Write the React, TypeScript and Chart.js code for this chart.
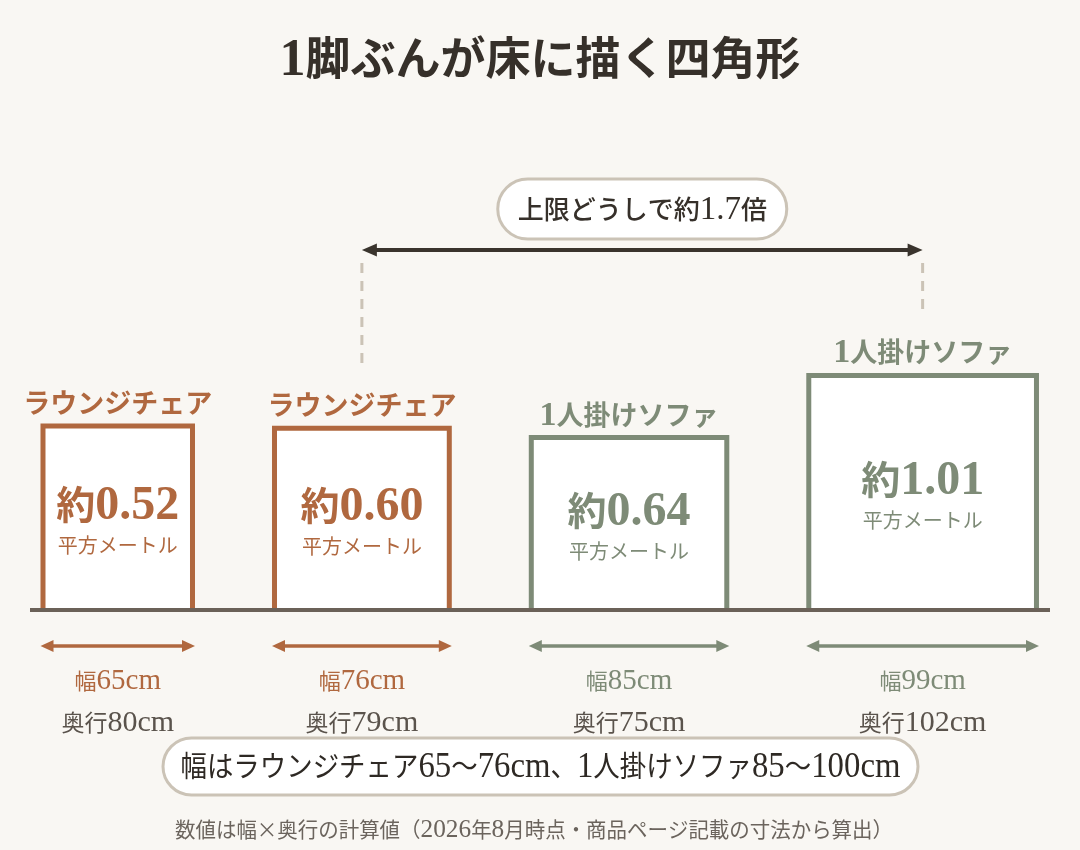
import React, { useEffect, useRef } from "react";
import { Chart, registerables } from "chart.js";

Chart.register(...registerables);

// ---- data ----
const categories = ["ラウンジチェア", "ラウンジチェア", "1人掛けソファ", "1人掛けソファ"];
const groups = ["chair", "chair", "sofa", "sofa"];
const widthsCm = [65, 76, 85, 99];
const depthsCm = [80, 79, 75, 102];
const titleText = "1脚ぶんが床に描く四角形";
const ratioText = "上限どうしで約1.7倍";
const summaryText = "幅はラウンジチェア65〜76cm、1人掛けソファ85〜100cm";
const noteText = "数値は幅×奥行の計算値（2026年8月時点・商品ページ記載の寸法から算出）";
const unitText = "平方メートル";

// ---- layout / style ----
const GAP_CM = 35.65;
const X_MIN = -5.652;
const X_MAX = 437.83;
const Y_MAX = 221.74;
const BG = "#f9f7f3";
const COLORS: Record<string, string> = { chair: "#b0683f", sofa: "#7e8b77" };
const DARK = "#36302a";
const MUTED = "#5a534c";
const FLOOR = "#6b6158";
const PILL_BORDER = "#cbc3b6";
const LATIN_FONT = "'Liberation Serif', serif";
const CJK_FONT = "'Noto Sans CJK JP', sans-serif";

const starts: number[] = [];
widthsCm.reduce((acc, w) => {
  starts.push(acc);
  return acc + w + GAP_CM;
}, 0);

function isLatin(ch: string) {
  const c = ch.charCodeAt(0);
  return c < 0x2000 && ch !== "×";
}

function mixedText(
  ctx: CanvasRenderingContext2D,
  text: string,
  cx: number,
  baseline: number,
  cjkPx: number,
  latPx: number,
  weight: string,
  maxWidth?: number
) {
  const runs: { t: string; lat: boolean; w: number }[] = [];
  for (const ch of text) {
    const lat = isLatin(ch);
    const last = runs[runs.length - 1];
    if (last && last.lat === lat) last.t += ch;
    else runs.push({ t: ch, lat, w: 0 });
  }
  const fontOf = (lat: boolean) =>
    lat ? `${weight} ${latPx}px ${LATIN_FONT}` : `${weight} ${cjkPx}px ${CJK_FONT}`;
  let total = 0;
  runs.forEach((r) => {
    ctx.font = fontOf(r.lat);
    r.w = ctx.measureText(r.t).width;
    total += r.w;
  });
  const s = maxWidth && total > maxWidth ? maxWidth / total : 1;
  ctx.save();
  ctx.translate(cx, baseline);
  ctx.scale(s, 1);
  ctx.textAlign = "left";
  ctx.textBaseline = "alphabetic";
  let x = -total / 2;
  runs.forEach((r) => {
    ctx.font = fontOf(r.lat);
    ctx.fillText(r.t, x, 0);
    x += r.w;
  });
  ctx.restore();
}

function roundRect(ctx: CanvasRenderingContext2D, x: number, y: number, w: number, h: number, r: number) {
  ctx.beginPath();
  ctx.moveTo(x + r, y);
  ctx.lineTo(x + w - r, y);
  ctx.arc(x + w - r, y + r, r, -Math.PI / 2, Math.PI / 2);
  ctx.lineTo(x + r, y + h);
  ctx.arc(x + r, y + r, r, Math.PI / 2, (3 * Math.PI) / 2);
  ctx.closePath();
}

function dblArrow(
  ctx: CanvasRenderingContext2D,
  x0: number,
  x1: number,
  y: number,
  color: string,
  lw: number,
  headLen: number,
  headHalf: number
) {
  ctx.save();
  ctx.strokeStyle = color;
  ctx.fillStyle = color;
  ctx.lineWidth = lw;
  ctx.lineCap = "butt";
  ctx.beginPath();
  ctx.moveTo(x0 + headLen - 2, y);
  ctx.lineTo(x1 - headLen + 2, y);
  ctx.stroke();
  ctx.beginPath();
  ctx.moveTo(x0, y);
  ctx.lineTo(x0 + headLen, y - headHalf);
  ctx.lineTo(x0 + headLen, y + headHalf);
  ctx.closePath();
  ctx.fill();
  ctx.beginPath();
  ctx.moveTo(x1, y);
  ctx.lineTo(x1 - headLen, y - headHalf);
  ctx.lineTo(x1 - headLen, y + headHalf);
  ctx.closePath();
  ctx.fill();
  ctx.restore();
}

const annotations = {
  id: "annotations",
  beforeDraw(chart: any) {
    const ctx = chart.ctx as CanvasRenderingContext2D;
    ctx.save();
    ctx.fillStyle = BG;
    ctx.fillRect(0, 0, chart.width, chart.height);
    ctx.restore();
  },
  afterDraw(chart: any) {
    const ctx = chart.ctx as CanvasRenderingContext2D;
    const xs = chart.scales.x;
    const ys = chart.scales.y;
    const yFloor = ys.getPixelForValue(0);
    ctx.save();

    // title
    ctx.fillStyle = DARK;
    mixedText(ctx, titleText, 540, 75, 45, 52, "bold");

    const centers: number[] = [];
    const tops: number[] = [];
    widthsCm.forEach((w, i) => {
      const x0 = xs.getPixelForValue(starts[i]);
      const x1 = xs.getPixelForValue(starts[i] + w);
      const yTop = ys.getPixelForValue(depthsCm[i]);
      const cx = (x0 + x1) / 2;
      const cy = (yTop + yFloor) / 2;
      centers.push(cx);
      tops.push(yTop);
      const col = COLORS[groups[i]];

      ctx.fillStyle = col;
      mixedText(ctx, categories[i], cx, yTop - 13, 27, 34, "bold");

      const area = ((w * depthsCm[i]) / 10000).toFixed(2);
      mixedText(ctx, "約" + area, cx, cy + 1, 39, 48, "bold");
      mixedText(ctx, unitText, cx, cy + 35, 20, 25, "normal");

      dblArrow(ctx, x0 - 2.5, x1 + 2.5, yFloor + 36, col, 3.5, 13, 6);

      ctx.fillStyle = col;
      mixedText(ctx, `幅${w}cm`, cx, yFloor + 79, 22, 29, "normal");
      ctx.fillStyle = MUTED;
      mixedText(ctx, `奥行${depthsCm[i]}cm`, cx, yFloor + 121, 23, 30, "normal");
    });

    // max of each group
    const areas = widthsCm.map((w, i) => w * depthsCm[i]);
    const maxIdx = (g: string) => {
      let best = -1;
      areas.forEach((a, i) => {
        if (groups[i] === g && (best < 0 || a > areas[best])) best = i;
      });
      return best;
    };
    const a = maxIdx("chair");
    const b = maxIdx("sofa");
    const ax = centers[a];
    const bx = centers[b];
    const arrowY = 250;

    ctx.save();
    ctx.strokeStyle = PILL_BORDER;
    ctx.lineWidth = 3;
    ctx.setLineDash([10, 8]);
    [a, b].forEach((i) => {
      ctx.beginPath();
      ctx.moveTo(centers[i], arrowY + 13);
      ctx.lineTo(centers[i], tops[i] - 62);
      ctx.stroke();
    });
    ctx.restore();

    dblArrow(ctx, ax, bx, arrowY, "#3a342d", 4, 15, 6.5);

    // ratio pill
    const pcx = (ax + bx) / 2;
    const pw = 289;
    const ph = 60;
    roundRect(ctx, pcx - pw / 2, 209 - ph / 2, pw, ph, ph / 2);
    ctx.fillStyle = "#ffffff";
    ctx.fill();
    ctx.strokeStyle = PILL_BORDER;
    ctx.lineWidth = 3;
    ctx.stroke();
    ctx.fillStyle = DARK;
    mixedText(ctx, ratioText, pcx, 219, 26, 33, "500");

    // summary pill
    roundRect(ctx, 163, 738, 755, 57, 28.5);
    ctx.fillStyle = "#ffffff";
    ctx.fill();
    ctx.strokeStyle = PILL_BORDER;
    ctx.lineWidth = 3;
    ctx.stroke();
    ctx.fillStyle = "#2e2924";
    mixedText(ctx, summaryText, 540.5, 777, 29, 36, "normal", 720);

    // note
    ctx.fillStyle = "#6b645d";
    mixedText(ctx, noteText, 534, 837, 21, 26, "normal", 718);

    ctx.restore();
  },
};

export default function App() {
  const ref = useRef<HTMLCanvasElement | null>(null);
  useEffect(() => {
    if (!ref.current) return;
    const boxSets = widthsCm.map((w, i) => ({
      label: categories[i],
      data: [
        { x: starts[i], y: 0 },
        { x: starts[i], y: depthsCm[i] },
        { x: starts[i] + w, y: depthsCm[i] },
        { x: starts[i] + w, y: 0 },
      ],
      borderColor: COLORS[groups[i]],
      backgroundColor: "#ffffff",
      borderWidth: 5,
      borderJoinStyle: "miter" as const,
      borderCapStyle: "butt" as const,
      fill: "origin",
      pointRadius: 0,
      tension: 0,
      clip: false as any,
    }));
    const chart = new Chart(ref.current, {
      type: "line",
      data: {
        datasets: [
          {
            label: "floor",
            data: [
              { x: X_MIN, y: 0 },
              { x: X_MAX, y: 0 },
            ],
            borderColor: FLOOR,
            borderWidth: 4,
            borderCapStyle: "butt",
            pointRadius: 0,
            fill: false,
            clip: false as any,
          },
          ...boxSets,
        ] as any,
      },
      options: {
        responsive: false,
        animation: false,
        devicePixelRatio: 1,
        layout: { padding: { left: 30, right: 30, top: 100, bottom: 240 } },
        scales: {
          x: { type: "linear", min: X_MIN, max: X_MAX, display: false },
          y: { type: "linear", min: 0, max: Y_MAX, display: false },
        },
        plugins: {
          legend: { display: false },
          tooltip: { enabled: false },
        },
        events: [],
      },
      plugins: [annotations],
    });
    return () => chart.destroy();
  }, []);
  return (
    <div style={{ position: "fixed", left: 0, top: 0, width: 1080, height: 850, background: BG }}>
      <canvas ref={ref} width={1080} height={850} style={{ width: 1080, height: 850, display: "block" }} />
    </div>
  );
}
